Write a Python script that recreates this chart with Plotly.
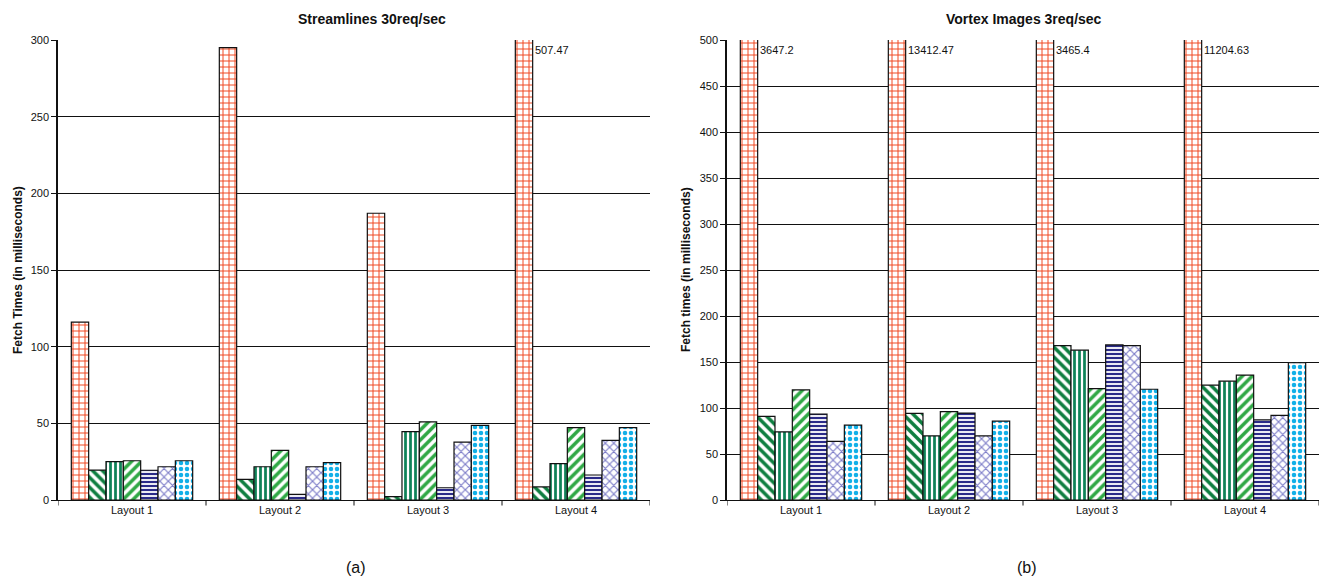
import plotly.graph_objects as go

W, H = 1326, 579

layouts = ["Layout 1", "Layout 2", "Layout 3", "Layout 4"]
series = ["S1", "S2", "S3", "S4", "S5", "S6", "S7"]

# Streamlines 30req/sec (ms)
stream = {
    "S1": [116.0, 295.0, 187.0, 507.47],
    "S2": [19.5, 13.5, 2.2, 8.5],
    "S3": [25.0, 21.7, 44.6, 23.7],
    "S4": [25.6, 32.4, 51.0, 47.2],
    "S5": [19.4, 3.7, 8.0, 16.3],
    "S6": [21.7, 21.7, 37.8, 38.9],
    "S7": [25.6, 24.4, 48.7, 47.2],
}

# Vortex Images 3req/sec (ms)
vortex = {
    "S1": [3647.2, 13412.47, 3465.4, 11204.63],
    "S2": [91.0, 94.2, 167.9, 124.8],
    "S3": [74.0, 69.7, 162.8, 129.2],
    "S4": [119.7, 96.0, 121.1, 135.8],
    "S5": [93.4, 94.5, 168.6, 87.2],
    "S6": [63.8, 69.7, 167.9, 92.0],
    "S7": [81.4, 85.7, 120.4, 149.2],
}

styles = {
    "S1": dict(shape="+", fg="#F0461E", size=6, sol=0.3),
    "S2": dict(shape="\\", fg="#0E7E40", size=7, sol=0.5),
    "S3": dict(shape="|", fg="#0F8258", size=5, sol=0.55),
    "S4": dict(shape="/", fg="#2FA845", size=7, sol=0.5),
    "S5": dict(shape="-", fg="#2A2A88", size=4, sol=0.55),
    "S6": dict(shape="x", fg="#7C7CC8", size=6, sol=0.35),
    "S7": dict(shape=".", fg="#12B0E8", size=6, sol=0.45),
}

BARGAP = 0.18
N = len(series)

fig = go.Figure()


def add_chart(data, xa, ya):
    for s in series:
        st = styles[s]
        fig.add_trace(go.Bar(
            x=list(range(len(layouts))), y=data[s], name=s,
            xaxis=xa, yaxis=ya, showlegend=False,
            marker=dict(
                color="white",
                line=dict(color="#111111", width=1.2),
                pattern=dict(shape=st["shape"], fgcolor=st["fg"], bgcolor="white",
                             size=st["size"], solidity=st["sol"], fillmode="replace"),
            ),
        ))


add_chart(stream, "x", "y")
add_chart(vortex, "x2", "y2")


# value labels for bars cut off at the top of the axis
def label_clipped(data, ymax, xref, yref):
    for i, v in enumerate(data["S1"]):
        if v > ymax:
            x_right = i - (1 - BARGAP) / 2 + (1 - BARGAP) / N
            fig.add_annotation(x=x_right, y=ymax, xref=xref, yref=yref,
                               text=f"{v}", showarrow=False, xanchor="left", yanchor="top",
                               xshift=0, yshift=-2,
                               font=dict(family="Liberation Sans, Arial", size=11, color="#111"))


label_clipped(stream, 300, "x", "y")
label_clipped(vortex, 500, "x2", "y2")

ydom = [1 - 500 / H, 1 - 40 / H]
font = dict(family="Liberation Sans, Arial", size=11, color="#111111")

xcommon = dict(
    tickmode="array", tickvals=list(range(4)), ticktext=layouts,
    range=[-0.5, 3.5], showline=True, linecolor="#111111", linewidth=1,
    ticks="", showgrid=False, zeroline=False, tickfont=font, automargin=False,
)
ycommon = dict(
    showline=True, linecolor="#111111", linewidth=1.5, ticks="outside", ticklen=5,
    tickcolor="#111111", showgrid=True, gridcolor="#111111", gridwidth=1,
    zeroline=False, tickfont=font, domain=ydom, automargin=False,
)

fig.update_layout(
    template="none",
    width=W, height=H, margin=dict(l=0, r=0, t=0, b=0, autoexpand=False),
    paper_bgcolor="white", plot_bgcolor="white",
    barmode="group", bargap=BARGAP, bargroupgap=0,
    xaxis=dict(domain=[58 / W, 650 / W], anchor="y", **xcommon),
    xaxis2=dict(domain=[727 / W, 1319 / W], anchor="y2", **xcommon),
    yaxis=dict(range=[0, 300], dtick=50, anchor="x", **ycommon),
    yaxis2=dict(range=[0, 500], dtick=50, anchor="x2", **ycommon),
)

# boundary tick marks between the layout groups
for xa, ya in (("x", "y"), ("x2", "y2")):
    for b in [-0.5, 0.5, 1.5, 2.5, 3.5]:
        fig.add_shape(type="line", xref=xa, yref=f"{ya} domain", x0=b, x1=b, y0=0, y1=-0.012,
                      line=dict(color="#111111", width=1))

titles = [
    ("Streamlines 30req/sec", 372),
    ("Vortex Images 3req/sec", 1024),
]
for t, px in titles:
    fig.add_annotation(x=px / W, y=1 - 19 / H, xref="paper", yref="paper", text=f"<b>{t}</b>",
                       showarrow=False, xanchor="center", yanchor="middle",
                       font=dict(family="Liberation Sans, Arial", size=14, color="#111"))

ytitles = [
    ("Fetch Times (in milliseconds)", 18),
    ("Fetch times (in milliseconds)", 686),
]
for t, px in ytitles:
    fig.add_annotation(x=px / W, y=1 - 270 / H, xref="paper", yref="paper", text=f"<b>{t}</b>",
                       textangle=-90, showarrow=False, xanchor="center", yanchor="middle",
                       font=dict(family="Liberation Sans, Arial", size=12, color="#111"))

for t, px in (("(a)", 356), ("(b)", 1027)):
    fig.add_annotation(x=px / W, y=1 - 567 / H, xref="paper", yref="paper", text=t,
                       showarrow=False, xanchor="center", yanchor="middle",
                       font=dict(family="Liberation Sans, Arial", size=16, color="#111"))

fig.write_html("out.html")
